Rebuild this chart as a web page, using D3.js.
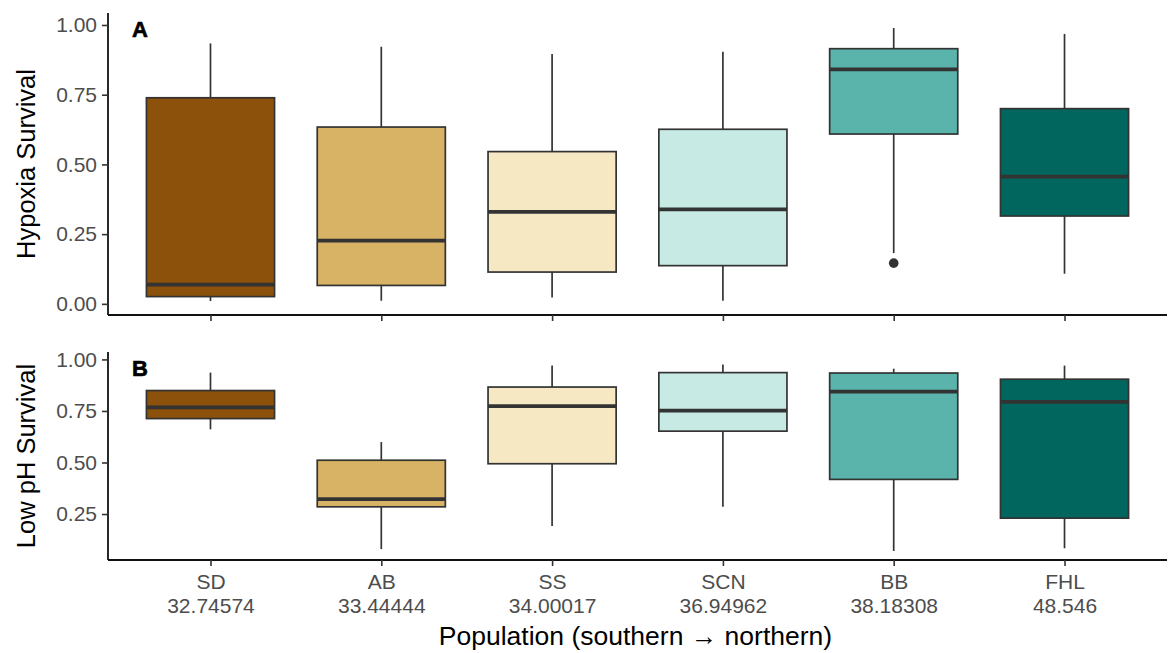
<!DOCTYPE html>
<html lang="en">

<head>
    <meta charset="UTF-8">
    <title>Survival boxplots</title>
    <script src="https://d3js.org/d3.v7.min.js"></script>
    <style>
        body {
            margin: 0;
            padding: 0;
            background: white;
        }

        svg {
            display: block;
            font-family: "Liberation Sans", Arial, sans-serif;
        }

        .tick text {
            fill: #4d4d4d;
        }
    </style>
</head>

<body>
    <script>

        // populations, south to north
        var pops = ['SD', 'AB', 'SS', 'SCN', 'BB', 'FHL']
        var lats = ['32.74574', '33.44444', '34.00017', '36.94962', '38.18308', '48.546']
        var colors = ['#8c510a', '#d8b365', '#f6e8c3', '#c7eae5', '#5ab4ac', '#01665e']

        // panel A: hypoxia survival
        var hypLow = [0.01, 0.011, 0.023, 0.011, 0.182, 0.108]
        var hypQ1 = [0.026, 0.066, 0.114, 0.137, 0.609, 0.315]
        var hypMed = [0.069, 0.227, 0.330, 0.339, 0.841, 0.456]
        var hypQ3 = [0.739, 0.634, 0.546, 0.626, 0.915, 0.700]
        var hypHigh = [0.934, 0.922, 0.896, 0.904, 0.989, 0.968]
        var hypOut = [[], [], [], [], [0.146], []]

        // panel B: low pH survival
        var phLow = [0.661, 0.080, 0.192, 0.285, 0.071, 0.084]
        var phQ1 = [0.713, 0.285, 0.494, 0.652, 0.418, 0.230]
        var phMed = [0.767, 0.322, 0.773, 0.752, 0.844, 0.794]
        var phQ3 = [0.849, 0.511, 0.866, 0.936, 0.934, 0.904]
        var phHigh = [0.936, 0.599, 0.971, 0.975, 0.955, 0.970]
        var phOut = [[], [], [], [], [], []]

        var yTicksA = [0, 0.25, 0.5, 0.75, 1]
        var yTicksB = [0.25, 0.5, 0.75, 1]

        function makeRows(low, q1, med, q3, high, out) {
            return pops.map(function (p, i) {
                return { pop: p, i: i, low: low[i], q1: q1[i], med: med[i], q3: q3[i], high: high[i], out: out[i] }
            })
        }

        var W = 1170, H = 653
        var left = 108, right = 1167

        var svg = d3.select('body').append('svg')
            .attr('width', W)
            .attr('height', H)

        var x = d3.scalePoint()
            .domain(pops)
            .range([left, right])
            .padding(0.6)
        var boxW = x.step() * 0.75

        function drawPanel(cfg) {
            var y = d3.scaleLinear().domain(cfg.domain).range([cfg.bottom, cfg.top])
            var g = svg.append('g')
            var rows = cfg.rows

            // whiskers
            g.selectAll('line.wh-hi').data(rows).enter().append('line')
                .attr('x1', function (d) { return x(d.pop) })
                .attr('x2', function (d) { return x(d.pop) })
                .attr('y1', function (d) { return y(d.q3) })
                .attr('y2', function (d) { return y(d.high) })
                .attr('stroke', '#333').attr('stroke-width', 1.7)
            g.selectAll('line.wh-lo').data(rows).enter().append('line')
                .attr('x1', function (d) { return x(d.pop) })
                .attr('x2', function (d) { return x(d.pop) })
                .attr('y1', function (d) { return y(d.q1) })
                .attr('y2', function (d) { return y(d.low) })
                .attr('stroke', '#333').attr('stroke-width', 1.7)

            // boxes
            g.selectAll('rect').data(rows).enter().append('rect')
                .attr('x', function (d) { return x(d.pop) - boxW / 2 })
                .attr('width', boxW)
                .attr('y', function (d) { return y(d.q3) })
                .attr('height', function (d) { return y(d.q1) - y(d.q3) })
                .attr('fill', function (d) { return colors[d.i] })
                .attr('stroke', '#333').attr('stroke-width', 1.7)

            // medians
            g.selectAll('line.med').data(rows).enter().append('line')
                .attr('x1', function (d) { return x(d.pop) - boxW / 2 })
                .attr('x2', function (d) { return x(d.pop) + boxW / 2 })
                .attr('y1', function (d) { return y(d.med) })
                .attr('y2', function (d) { return y(d.med) })
                .attr('stroke', '#333').attr('stroke-width', 3.8)

            // outliers
            rows.forEach(function (d) {
                g.selectAll(null).data(d.out).enter().append('circle')
                    .attr('cx', x(d.pop))
                    .attr('cy', function (v) { return y(v) })
                    .attr('r', 4.8)
                    .attr('fill', '#333')
            })

            // axes
            var ya = svg.append('g')
                .attr('transform', 'translate(' + left + ',0)')
                .call(d3.axisLeft(y).tickValues(cfg.ticks).tickFormat(d3.format('.2f')).tickSize(6).tickPadding(5).tickSizeOuter(0))
            var xa = svg.append('g')
                .attr('transform', 'translate(0,' + cfg.bottom + ')')
                .call(d3.axisBottom(x).tickSize(6).tickSizeOuter(0).tickFormat(''))
            ;[ya, xa].forEach(function (a) {
                a.select('.domain').attr('stroke', '#111').attr('stroke-width', 1.8)
                a.selectAll('.tick line').attr('stroke', '#333').attr('stroke-width', 1.6)
                a.selectAll('.tick text').attr('font-size', 21).attr('font-family', null)
            })
            // extend the y axis line so it meets the x axis
            ya.select('.domain').attr('d', 'M0,' + cfg.top + 'V' + cfg.bottom)
            xa.select('.domain').attr('d', 'M' + left + ',0H' + right)

            if (cfg.labels) {
                xa.selectAll('.tick').each(function (p, i) {
                    var t = d3.select(this).append('text')
                        .attr('fill', '#4d4d4d')
                        .attr('font-size', 21)
                        .attr('text-anchor', 'middle')
                    t.append('tspan').attr('x', 0).attr('y', 29).text(p)
                    t.append('tspan').attr('x', 0).attr('y', 53).text(lats[i])
                })
            }

            // panel tag
            svg.append('text')
                .attr('x', 132).attr('y', cfg.top + 24)
                .attr('font-size', 22).attr('font-weight', 'bold')
                .attr('fill', '#000')
                .attr('stroke', '#000').attr('stroke-width', 0.6)
                .text(cfg.tag)

            // y title
            svg.append('text')
                .attr('transform', 'translate(35,' + (cfg.top + cfg.bottom) / 2 + ') rotate(-90)')
                .attr('text-anchor', 'middle')
                .attr('font-size', 25.5)
                .attr('fill', '#000')
                .text(cfg.title)
        }

        drawPanel({
            rows: makeRows(hypLow, hypQ1, hypMed, hypQ3, hypHigh, hypOut),
            domain: [-0.04, 1.043], top: 13, bottom: 315,
            ticks: yTicksA, tag: 'A', title: 'Hypoxia Survival', labels: false
        })

        drawPanel({
            rows: makeRows(phLow, phQ1, phMed, phQ3, phHigh, phOut),
            domain: [0.027, 1.036], top: 352, bottom: 560,
            ticks: yTicksB, tag: 'B', title: 'Low pH Survival', labels: true
        })

        svg.append('text')
            .attr('x', (left + right) / 2 - 2)
            .attr('y', 645)
            .attr('text-anchor', 'middle')
            .attr('font-size', 26.5)
            .attr('fill', '#000')
            .text('Population (southern \u2192 northern)')

    </script>
</body>

</html>
